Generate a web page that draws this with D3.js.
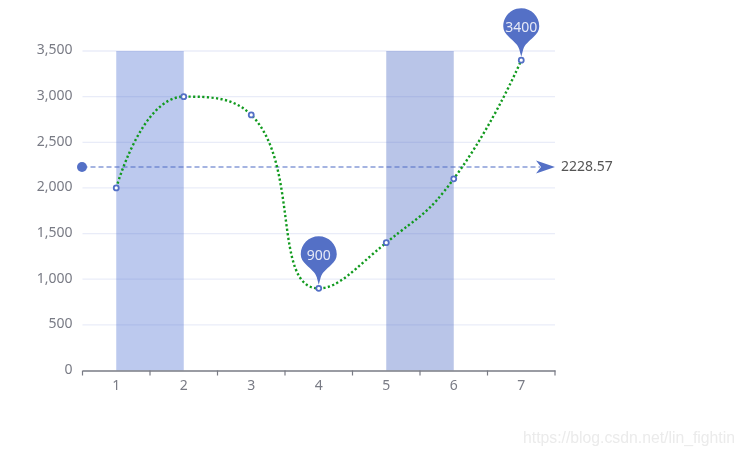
<!DOCTYPE html>
<html><head><meta charset="utf-8">
<script src="https://cdn.jsdelivr.net/npm/d3@7/dist/d3.min.js"></script>
<style>html,body{margin:0;padding:0;background:#fff}svg{display:block;filter:blur(0.35px)}</style>
</head><body><div id="c"></div>
<script>
const categories = ["1","2","3","4","5","6","7"];
const values = [2000,3000,2800,900,1400,2100,3400];
const yTicks = [0,500,1000,1500,2000,2500,3000,3500];
const bandStarts = ["1","5"];
const bandEnds = ["2","6"];
const bandColors = ["#bcc9ee","#b9c5e8"];
const pinCategories = ["4","7"];
const pinValues = [900,3400];
const meanValue = 2228.57;

const W=744,H=456, blue="#5470c6", grey="#797b85";
const font='"Noto Sans",sans-serif';
const svg=d3.select("#c").append("svg").attr("width",W).attr("height",H).style("font-family",font);
const x=d3.scaleBand().domain(categories).range([82.5,555]);
const cx=c=>x(c)+x.bandwidth()/2;
const y=d3.scaleLinear().domain([0,3500]).range([370.5,51]);

// bands
svg.append("g").selectAll("rect").data(bandStarts).join("rect")
  .attr("x",d=>cx(d)).attr("width",(d,i)=>cx(bandEnds[i])-cx(d))
  .attr("y",y(3500)).attr("height",y(0)-y(3500))
  .attr("fill",(d,i)=>bandColors[i]);

// grid
svg.append("g").selectAll("line").data(yTicks.filter(d=>d>0)).join("line")
  .attr("x1",82.5).attr("x2",555).attr("y1",d=>y(d)).attr("y2",d=>y(d))
  .attr("stroke",blue).attr("stroke-opacity",0.13).attr("stroke-width",1.3);

// y labels
svg.append("g").selectAll("text").data(yTicks).join("text")
  .attr("x",72.5).attr("y",d=>y(d)-1.5).attr("dy","0.35em").attr("text-anchor","end")
  .attr("fill",grey).attr("font-size",14).text(d3.format(","));

// x axis
const ax=svg.append("g").attr("transform",`translate(0,${y(0)})`)
  .call(d3.axisBottom(x).tickSize(0).tickPadding(10));
ax.select(".domain").attr("stroke",grey).attr("stroke-width",1.5);
ax.selectAll("text").attr("fill",grey).attr("font-size",14).attr("font-family",font);
ax.selectAll(".tick line").remove();
svg.append("g").selectAll("line").data(categories.map(c=>x(c)).concat([x.range()[1]])).join("line")
  .attr("x1",d=>d).attr("x2",d=>d).attr("y1",y(0)).attr("y2",y(0)+5)
  .attr("stroke",grey).attr("stroke-width",1.2);

// mean line
const my=y(meanValue);
svg.append("line").attr("x1",82.5).attr("x2",540).attr("y1",my).attr("y2",my)
  .attr("stroke",blue).attr("stroke-opacity",0.7).attr("stroke-width",1.4).attr("stroke-dasharray","5,3");
svg.append("circle").attr("cx",82).attr("cy",my).attr("r",5).attr("fill",blue);
svg.append("path").attr("transform",`translate(555,${my})`)
  .attr("d","M0,0 L-19,-6.5 L-14,0 L-19,6.5 Z").attr("fill",blue);
svg.append("text").attr("x",561).attr("y",my-1).attr("dy","0.35em").attr("fill","#555")
  .attr("font-size",14).text(meanValue);

// smooth line following the ECharts control-point rule (smooth = 0.5)
function smoothPath(pts, s){
  const clamp=(v,a,b)=>Math.max(Math.min(v,Math.max(a,b)),Math.min(a,b));
  const p=d3.path();
  p.moveTo(pts[0][0],pts[0][1]);
  let c0=pts[0].slice();
  for(let i=1;i<pts.length;i++){
    const [px,py]=pts[i-1],[cxx,cyy]=pts[i],nxt=pts[i+1];
    if(!nxt){p.bezierCurveTo(c0[0],c0[1],cxx,cyy,cxx,cyy);break;}
    const [nx,ny]=nxt;
    const lp=Math.hypot(cxx-px,cyy-py),ln=Math.hypot(nx-cxx,ny-cyy),r=ln/(lp+ln);
    const n1x=clamp(cxx+(nx-px)*s*r,cxx,nx),n1y=clamp(cyy+(ny-py)*s*r,cyy,ny);
    const bx=clamp(cxx-(n1x-cxx)*lp/ln,px,cxx),by=clamp(cyy-(n1y-cyy)*lp/ln,py,cyy);
    p.bezierCurveTo(c0[0],c0[1],bx,by,cxx,cyy);
    c0=[cxx+(cxx-bx)*ln/lp,cyy+(cyy-by)*ln/lp];
  }
  return p.toString();
}
svg.append("path").attr("d",smoothPath(values.map((d,i)=>[cx(categories[i]),y(d)]),0.5))
  .attr("fill","none").attr("stroke","#119a1e")
  .attr("stroke-width",2.4).attr("stroke-dasharray","2.2,2.4");

// points
svg.append("g").selectAll("circle").data(values).join("circle")
  .attr("cx",(d,i)=>cx(categories[i])).attr("cy",d=>y(d)).attr("r",2.5)
  .attr("fill","#fff").attr("stroke",blue).attr("stroke-width",1.8);

// pins
const pin=svg.append("g").selectAll("g").data(pinValues).join("g")
  .attr("transform",(d,i)=>`translate(${cx(pinCategories[i])},${y(d)})`);
pin.append("path").attr("fill",blue)
  .attr("d","M0,-3.5 L-2,-11 C-3.5,-16 -8,-19 -12,-23 C-16,-26.5 -18,-30 -18,-34 C-18,-44 -10,-52 0,-52 C10,-52 18,-44 18,-34 C18,-30 16,-26.5 12,-23 C8,-19 3.5,-16 2,-11 Z");
pin.append("text").attr("y",-33.5).attr("dy","0.35em").attr("text-anchor","middle")
  .attr("fill","#e6e9f7").attr("font-size",14).text(d=>d);

svg.append("text").attr("x",523).attr("y",443).attr("fill","#ebebeb")
  .attr("font-family",'"Liberation Sans",sans-serif').attr("font-size",16)
  .attr("textLength",212).attr("lengthAdjust","spacingAndGlyphs").text("https://blog.csdn.net/lin_fightin");
</script></body></html>
